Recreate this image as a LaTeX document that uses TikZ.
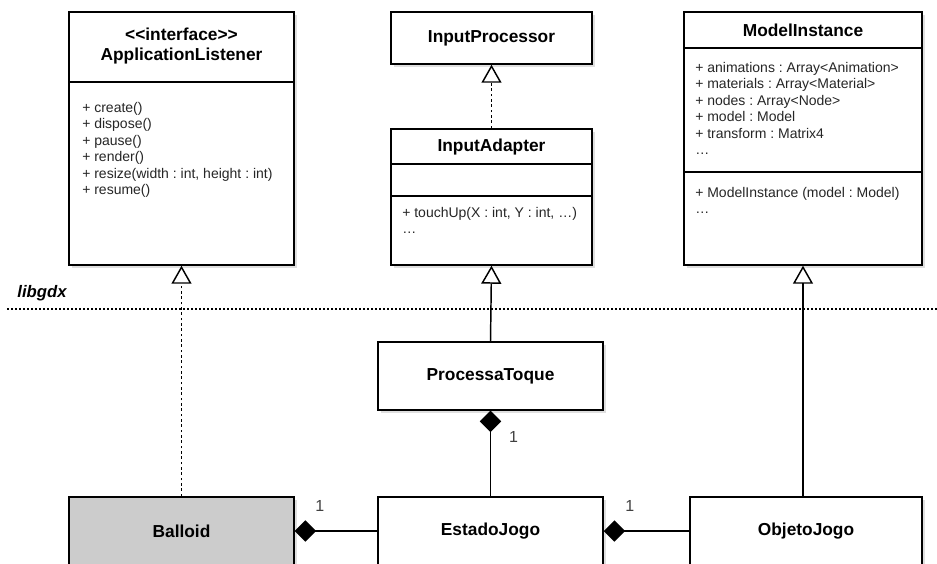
\documentclass[tikz,border=0pt]{standalone}
\usepackage{fontspec}
\setmainfont{Liberation Sans}
\usetikzlibrary{arrows.meta,fit,shadows}
\frenchspacing

\begin{document}
\begin{tikzpicture}[x=0.75pt,y=-0.75pt,
    cls/.style={draw,line width=1.1pt,fill=white,inner sep=0pt,
      drop shadow={shadow xshift=2pt,shadow yshift=-2pt,opacity=0.25}},
    ttl/.style={font=\bfseries\fontsize{13}{15}\selectfont,align=center},
    mem/.style={anchor=north west,align=left,inner sep=0pt,text=black!85,
      font=\fontsize{10.5}{12.3}\selectfont},
    inh/.style={-{Triangle[open,length=13.5pt,width=15pt]},line width=1.1pt},
    real/.style={inh,dash pattern=on 2pt off 2pt},
    comp/.style={{Diamond[length=16pt,width=16pt]}-,line width=1.1pt},
    mult/.style={text=black!75,font=\fontsize{12}{13}\selectfont}]
  \useasboundingbox (0,0) rectangle (937,563);
  \clip (0,0) rectangle (937,563);

  % libgdx side
  \node[cls,fit={(69,12) (294,265)}] (lis) {};
  \node[ttl] (lisT) at (181.5,46) {{<}{<}interface{>}{>}\\ApplicationListener};
  \draw[line width=1.1pt] (69,82) -- (294,82);
  \node[mem] (lisM) at (82,102) {+ create()\\+ dispose()\\+ pause()\\+ render()\\
    + resize(width : int, height : int)\\+ resume()};

  \node[cls,fit={(391,12) (592,64)},label={[ttl]center:InputProcessor}] (inp) {};

  \node[cls,fit={(391,129) (592,265)}] (ada) {};
  \node[ttl] (adaT) at (491.5,147) {InputAdapter};
  \draw[line width=1.1pt] (391,164) -- (592,164);
  \draw[line width=1.1pt] (391,196) -- (592,196);
  \node[mem] (adaM) at (402,207) {+ touchUp(X : int, Y : int, …)\\…};

  \node[cls,fit={(684,12) (922,265)}] (mod) {};
  \node[ttl] (modT) at (803,30) {ModelInstance};
  \draw[line width=1.1pt] (684,48) -- (922,48);
  \draw[line width=1.1pt] (684,172) -- (922,172);
  \node[mem] (modA) at (695,62) {+ animations : Array<Animation>\\
    + materials : Array<Material>\\+ nodes : Array<Node>\\+ model : Model\\
    + transform : Matrix4\\…};
  \node[mem] (modM) at (695,187) {+ ModelInstance (model : Model)\\…};

  % package border
  \node[font=\bfseries\itshape\fontsize{12.5}{14}\selectfont] (pkg) at (42,293) {libgdx};
  \draw[line width=1.1pt,dash pattern=on 1.5pt off 1.5pt] (7,309) -- (937,309);

  % game classes
  \node[cls,fit={(378,342) (603,410)},label={[ttl]center:ProcessaToque}] (tou) {};
  \node[cls,fill=black!20,fit={(69,497) (294,565)},label={[ttl]center:Balloid}] (bal) {};
  \node[cls,fit={(378,497) (603,565)},label={[ttl]center:EstadoJogo}] (est) {};
  \node[cls,fit={(690,497) (922,565)},label={[ttl]center:ObjetoJogo}] (obj) {};

  \draw[real] (ada.north) -- (inp.south);
  \draw[real] (bal.north) -- (lis.south);
  \draw[inh] (tou.north) -- (ada.south);
  \draw[inh] (obj.north -| mod.south) -- (mod.south);
  \draw[comp] (tou.south) -- (est.north);
  \draw[comp] (bal.east) -- (est.west);
  \draw[comp] (est.east) -- (obj.west);

  \node[mult] (m1) at ([shift={(23,26)}]tou.south) {1};
  \node[mult] (m2) at ([shift={(25,-25)}]bal.east) {1};
  \node[mult] (m3) at ([shift={(26,-25)}]est.east) {1};
\end{tikzpicture}
\end{document}
